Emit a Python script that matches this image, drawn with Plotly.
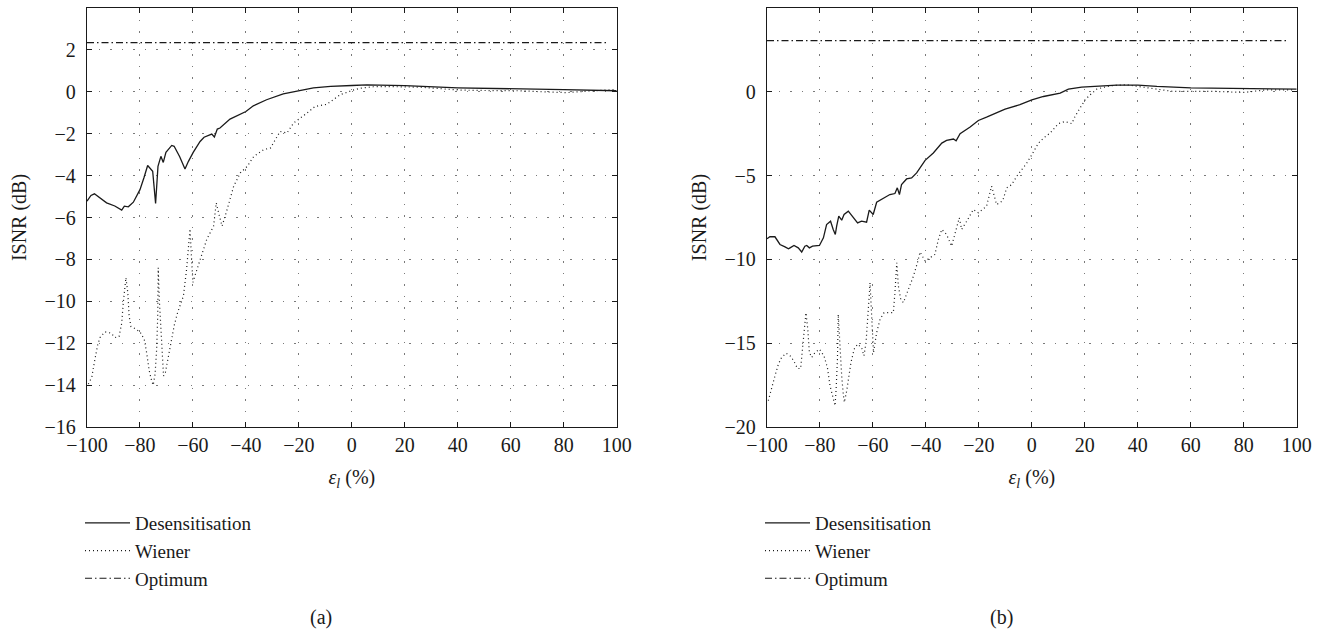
import plotly.graph_objects as go

# ---- panel (a) ----
a_des_x = [-100, -98.5, -97.2, -95, -92.6, -89.5, -86.9, -85.9, -84.4, -82.5, -80, -78.5,
           -77.1, -75.2, -74.1, -73.2, -72.1, -71.2, -70.2, -68, -67.1, -65, -63, -61.7,
           -59.9, -57.3, -55.8, -52.9, -51.9, -50.8, -49.8, -46, -40, -37.2, -32.2, -25.9,
           -20, -14.5, -8, -4.4, 0, 5.7, 10, 20, 40, 60, 80, 100]
a_des_y = [-5.22, -4.95, -4.87, -5.06, -5.3, -5.45, -5.65, -5.46, -5.49, -5.27, -4.67, -4.1,
           -3.52, -3.79, -5.33, -3.56, -3.08, -3.37, -2.89, -2.56, -2.6, -3.1, -3.68, -3.32,
           -2.89, -2.37, -2.17, -2.02, -2.16, -1.78, -1.73, -1.3, -0.94, -0.67, -0.38, -0.1,
           0.06, 0.19, 0.26, 0.29, 0.3, 0.33, 0.32, 0.29, 0.19, 0.13, 0.1, 0.05]

a_wie_x = [-99.5, -98.2, -97.2, -96, -95.1, -93.2, -90.9, -89.4, -87.9, -86.9, -86.3, -85.7,
           -85.3, -84.6, -84.1, -83.4, -81.9, -80, -78.4, -77.5, -76.5, -75.6, -75, -74.3,
           -73.7, -73.3, -73.1, -72.7, -72.2, -71.6, -71.1, -70.4, -69.3, -68.3, -67.1, -65.8,
           -63.6, -62.4, -61.6, -61.1, -60.6, -60, -59.3, -57.3, -54.8, -52.2, -51.2, -50.3,
           -49, -47.1, -44.6, -42.1, -39.5, -37, -33.3, -30.7, -27.1, -24.5, -22, -17,
           -13.9, -9.5, -7, -4.4, 0, 3.1, 8, 13.2, 25.8, 40.9, 51, 63.5, 72, 81.1, 90, 98.8]
a_wie_y = [-13.95, -13.63, -12.9, -12.1, -11.73, -11.46, -11.52, -11.73, -11.68, -11.05, -10.06, -9.27,
           -8.87, -9.59, -10.7, -11.21, -11.3, -11.46, -11.81, -12.44, -13.32, -13.79, -14.0, -13.48,
           -12.29, -10.7, -8.4, -9.9, -11.17, -12.44, -13.56, -13.4, -12.6, -11.97, -11.17, -10.54,
           -9.75, -8.48, -7.4, -6.54, -7.8, -9.1, -8.8, -8.0, -7.05, -6.41, -5.3, -5.78,
           -6.41, -5.62, -4.5, -3.87, -3.56, -3.08, -2.76, -2.68, -1.89, -1.97, -1.49, -1.02,
           -0.7, -0.6, -0.38, -0.14, 0.06, 0.17, 0.24, 0.25, 0.22, 0.08, 0.06, 0.05, 0.0, -0.04, 0.04, 0.1]

a_opt_x = [-100, 97]
a_opt_y = [2.35, 2.35]

# ---- panel (b) ----
b_des_x = [-100, -98.9, -97, -95.1, -93.2, -91.9, -91.3, -89.8, -88.2, -86.9, -85.7, -85,
           -84, -82.8, -80.2, -78.7, -77.5, -76, -75, -74.2, -73.7, -72.9, -71.8, -70.9,
           -69.3, -67.4, -65.8, -64.3, -62.4, -61.4, -60.5, -59.9, -58.6, -57.3, -56.1, -53.6,
           -51.7, -50.8, -50, -49.2, -47.3, -45.4, -43.5, -40.3, -37.2, -34, -32.2, -29.6,
           -28.6, -27.1, -23.3, -20.2, -17.1, -14.5, -12.3, -10.1, -7, -4.5, 0, 4.4,
           10.7, 13.8, 18.8, 25.8, 32, 40, 47.2, 60, 80, 100]
b_des_y = [-8.77, -8.65, -8.65, -9.11, -9.25, -9.37, -9.31, -9.17, -9.31, -9.56, -9.21, -9.17,
           -9.31, -9.21, -9.17, -8.71, -7.92, -7.72, -8.21, -8.51, -8.02, -7.42, -7.66, -7.32,
           -7.12, -7.52, -7.82, -7.72, -7.78, -7.06, -7.22, -7.32, -6.59, -6.47, -6.39, -6.13,
           -6.07, -5.73, -6.13, -5.54, -5.2, -5.14, -4.84, -4.09, -3.65, -3.06, -2.9, -2.82,
           -2.92, -2.5, -2.1, -1.71, -1.51, -1.31, -1.18, -1.03, -0.91, -0.77, -0.48, -0.28,
           -0.08, 0.16, 0.28, 0.32, 0.4, 0.4, 0.32, 0.24, 0.18, 0.16]

b_wie_x = [-99.5, -98.2, -97, -95.7, -94.5, -92.8, -90.9, -89.6, -88.5, -87.3, -86.5, -85.9,
           -85.3, -84.6, -84, -83.1, -81.9, -80.2, -78.5, -77.2, -76.2, -75.2, -74.3, -73.9,
           -73.4, -73.1, -72.7, -72.2, -71.8, -71.2, -70.8, -69.9, -69.3, -68.3, -67.1, -65.8,
           -64.3, -63.4, -62.6, -62, -61.5, -61.1, -60.7, -60.2, -59.8, -58.6, -57.3, -55.8,
           -52.3, -51.7, -51, -50.4, -49.5, -48.5, -46.6, -44.7, -43.2, -42.2, -40.3, -38.4,
           -36.6, -35.3, -34, -32.2, -30.3, -27.4, -26.5, -24.6, -22.1, -20.2, -17.1, -15.2,
           -14.5, -13.3, -11, -9.5, -7.6, -5.7, -3.8, -1.9, 0, 2.5, 4.4, 6.9,
           10, 12.5, 15.1, 16.3, 18.2, 20.1, 22, 24.5, 29.5, 35.8, 40, 47.2,
           53.5, 60, 69.8, 80, 88.7, 98.8]
b_wie_y = [-18.43, -17.74, -16.95, -16.25, -15.85, -15.6, -15.8, -16.15, -16.51, -16.51, -15.36, -14.17,
           -13.18, -14.17, -15.56, -15.85, -15.56, -15.36, -15.75, -16.45, -17.54, -18.13, -18.73, -17.74,
           -15.95, -13.28, -14.56, -15.95, -16.95, -18.04, -18.53, -17.84, -17.15, -16.15, -15.36, -15.06,
           -15.26, -15.75, -14.96, -13.77, -12.38, -11.39, -12.78, -14.56, -15.56, -14.37, -13.57, -13.18,
           -13.18, -11.98, -10.2, -11.59, -12.38, -12.58, -11.79, -10.99, -10.2, -9.56, -10.1, -9.9,
           -9.7, -8.81, -8.21, -8.51, -9.21, -7.52, -8.21, -7.72, -7.02, -7.22, -6.83, -5.63,
           -6.03, -6.73, -6.5, -5.73, -5.54, -5.04, -4.64, -4.25, -3.75, -3.06, -2.76, -2.46,
           -1.9, -1.77, -1.9, -1.47, -0.97, -0.48, -0.18, 0.16, 0.36, 0.42, 0.32, 0.16,
           0.02, 0.02, 0.02, -0.04, 0.12, 0.12]

b_opt_x = [-100, 97]
b_opt_y = [3.05, 3.05]

x_ticks = [-100, -80, -60, -40, -20, 0, 20, 40, 60, 80, 100]
a_y_ticks = [-16, -14, -12, -10, -8, -6, -4, -2, 0, 2, 4]
b_y_ticks = [-20, -15, -10, -5, 0, 5]

series_names = ["Desensitisation", "Wiener", "Optimum"]

W, H = 1336, 634
FONT = "Liberation Serif, DejaVu Serif, serif"
FS = 20
INK = "#1a1a1a"


def px_x(p):
    return p / W


def px_y(p):
    return 1 - p / H


line_styles = [
    dict(color=INK, width=1.3, dash="solid"),
    dict(color=INK, width=1.2, dash="1px,3px"),
    dict(color=INK, width=1.2, dash="7px,3px,1.5px,3px"),
]

fig = go.Figure()

panels = [
    ("x", "y", "legend", [(a_des_x, a_des_y), (a_wie_x, a_wie_y), (a_opt_x, a_opt_y)]),
    ("x2", "y2", "legend2", [(b_des_x, b_des_y), (b_wie_x, b_wie_y), (b_opt_x, b_opt_y)]),
]
for xa, ya, lg, curves in panels:
    for name, (xs, ys), style in zip(series_names, curves, line_styles):
        fig.add_trace(go.Scatter(
            x=xs, y=ys, mode="lines", name=name, line=style,
            xaxis=xa, yaxis=ya, legend=lg, hoverinfo="skip",
        ))

axis_common = dict(
    showline=True, linecolor=INK, linewidth=1.3, mirror="ticks",
    ticks="inside", ticklen=5, tickwidth=1.2, tickcolor=INK,
    showgrid=True, gridcolor="#7a7a7a", gridwidth=1, griddash="1.5px,10px",
    zeroline=False, tickfont=dict(family=FONT, size=FS, color=INK),
    automargin=False,
)

x_title = dict(text="<i>ε</i><sub><i>l</i></sub> (%)", font=dict(family=FONT, size=FS, color=INK), standoff=14)
y_title = dict(text="ISNR (dB)", font=dict(family=FONT, size=FS, color=INK), standoff=12)

legend_common = dict(
    xanchor="left", yanchor="top", bgcolor="rgba(0,0,0,0)",
    font=dict(family=FONT, size=19, color=INK), itemwidth=45, tracegroupgap=0,
)

fig.update_layout(
    width=W, height=H,
    margin=dict(l=0, r=0, t=0, b=0),
    paper_bgcolor="white", plot_bgcolor="white",
    font=dict(family=FONT, size=FS, color=INK),
    xaxis=dict(domain=[px_x(87), px_x(616.7)], range=[-100, 100], tickvals=x_ticks,
               anchor="y", title=x_title, ticklabelstandoff=0, **axis_common),
    yaxis=dict(domain=[px_y(427), px_y(8)], range=[-16, 4], tickvals=a_y_ticks,
               anchor="x", title=y_title, ticklabelstandoff=6, **axis_common),
    xaxis2=dict(domain=[px_x(767), px_x(1296.7)], range=[-100, 100], tickvals=x_ticks,
                anchor="y2", title=x_title, ticklabelstandoff=0, **axis_common),
    yaxis2=dict(domain=[px_y(427), px_y(8)], range=[-20, 5], tickvals=b_y_ticks,
                anchor="x2", title=y_title, ticklabelstandoff=6, **axis_common),
    legend=dict(x=px_x(80), y=px_y(504), **legend_common),
    legend2=dict(x=px_x(760), y=px_y(504), **legend_common),
    annotations=[
        dict(text="(a)", x=px_x(321), y=px_y(617), xref="paper", yref="paper",
             xanchor="center", yanchor="middle", showarrow=False,
             font=dict(family=FONT, size=FS, color=INK)),
        dict(text="(b)", x=px_x(1001), y=px_y(617), xref="paper", yref="paper",
             xanchor="center", yanchor="middle", showarrow=False,
             font=dict(family=FONT, size=FS, color=INK)),
    ],
)

fig.write_html("out.html")
